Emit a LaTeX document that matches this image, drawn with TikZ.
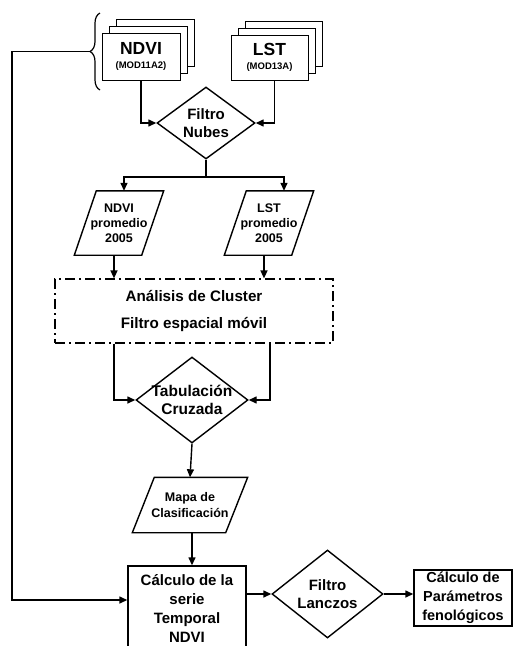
\documentclass[tikz,border=0pt]{standalone}
\usepackage{fontspec}
\setmainfont{Liberation Sans}
\usetikzlibrary{shapes.geometric,shadows,arrows.meta,decorations.pathreplacing}

\begin{document}
\begin{tikzpicture}[
  x=1pt, y=-1pt,
  line width=1.4pt,
  every node/.style={font=\bfseries, align=center},
  arr/.style={draw, -{Triangle[length=8pt,width=7pt]}},
  stack/.style={draw, fill=white, line width=0.9pt, double copy shadow={shadow xshift=7pt, shadow yshift=7pt}},
  dia/.style={draw, diamond, inner sep=0pt},
  par/.style={inner sep=0pt, append after command={\pgfextra{
    \draw ([xshift=11pt]\tikzlastnode.north west) -- ([xshift=11pt]\tikzlastnode.north east)
      -- ([xshift=-11pt]\tikzlastnode.south east) -- ([xshift=-11pt]\tikzlastnode.south west) -- cycle;}}},
  box/.style={draw, rectangle, inner sep=2pt},
  dashdot/.style={draw, dash pattern=on 10pt off 4pt on 2pt off 4pt, line width=1.2pt},
  txt/.style 2 args={font=\bfseries\fontsize{#1}{#2}\selectfont, align=center}
  ]
  \useasboundingbox (0,0) rectangle (516,646);

  % input products
  \node[stack, minimum width=78pt, minimum height=47pt, txt={17.5}{14}] (ndvi) at (141,56.5)
    {NDVI\\{\fontsize{9.5}{10}\selectfont (MOD11A2)}};
  \node[stack, minimum width=77pt, minimum height=45pt, txt={17.5}{14}] (lst) at (269.5,57.5)
    {LST\\{\fontsize{9.5}{10}\selectfont (MOD13A)}};
  \draw[decorate, decoration={brace, amplitude=10pt}, line width=1.2pt] (100,90) -- (100,13);
  \coordinate (brtip) at (90,51.5);

  \node[dia, minimum width=98pt, minimum height=72pt,
    label={[txt={15}{18}]center:Filtro\\Nubes}] (nubes) at (206,123) {};
  \coordinate (split) at (206,177);

  \node[par, minimum width=66pt, minimum height=63pt, txt={12.5}{15}] (ndvip) at (119,223)
    {NDVI\\promedio\\2005};
  \node[par, minimum width=66pt, minimum height=63pt, txt={12.5}{15}] (lstp) at (269,223)
    {LST\\promedio\\2005};

  \node[dashdot, minimum width=278pt, minimum height=64pt, txt={15.2}{17}] (clus) at (194,311)
    {Análisis de Cluster\\[10pt]Filtro espacial móvil};

  \node[dia, minimum width=112pt, minimum height=86pt,
    label={[txt={15.5}{18}]center:Tabulación\\Cruzada}] (tab) at (192,400) {};

  \node[par, minimum width=92pt, minimum height=54pt, txt={12.5}{16}] (mapa) at (190,505)
    {Mapa de\\Clasificación};

  % time series
  \node[box, minimum width=118pt, minimum height=84pt, txt={15}{19}] (calc) at (187,608)
    {Cálculo de la\\serie\\Temporal\\NDVI};
  \node[dia, minimum width=111pt, minimum height=88pt,
    label={[txt={15}{18}]center:Filtro\\Lanczos}] (lanczos) at (327.5,594) {};
  \node[box, minimum width=98pt, minimum height=54pt, txt={14.5}{19}] (param) at (463,598)
    {Cálculo de\\Parámetros\\fenológicos};
  \coordinate (back) at (12,600);

  \draw[arr] (ndvi.south) |- (nubes.west);
  \draw[arr] ([xshift=5pt]lst.south) |- (nubes.east);
  \draw (nubes.south) -- (split);
  \draw[arr] (split) -| ([xshift=5pt]ndvip.north);
  \draw[arr] (split) -| ([xshift=15pt]lstp.north);
  \draw[arr] ([xshift=-5pt]ndvip.south) -- ([xshift=-5pt]ndvip.south |- clus.north);
  \draw[arr] ([xshift=-5pt]lstp.south) -- ([xshift=-5pt]lstp.south |- clus.north);
  \draw[arr] ([xshift=-80pt]clus.south) |- (tab.west);
  \draw[arr] ([xshift=76pt]clus.south) |- (tab.east);
  \draw[arr] (tab.south) -- (mapa.north);
  \draw[arr] ([xshift=2pt]mapa.south) -- ([xshift=2pt]mapa.south |- calc.north);
  \draw[arr] (lanczos.west -| calc.east) -- (lanczos.west);
  \draw[arr] (lanczos.east) -- (lanczos.east -| param.west);
  \draw[arr] (brtip) -| (back) -- (back -| calc.west);
\end{tikzpicture}
\end{document}
